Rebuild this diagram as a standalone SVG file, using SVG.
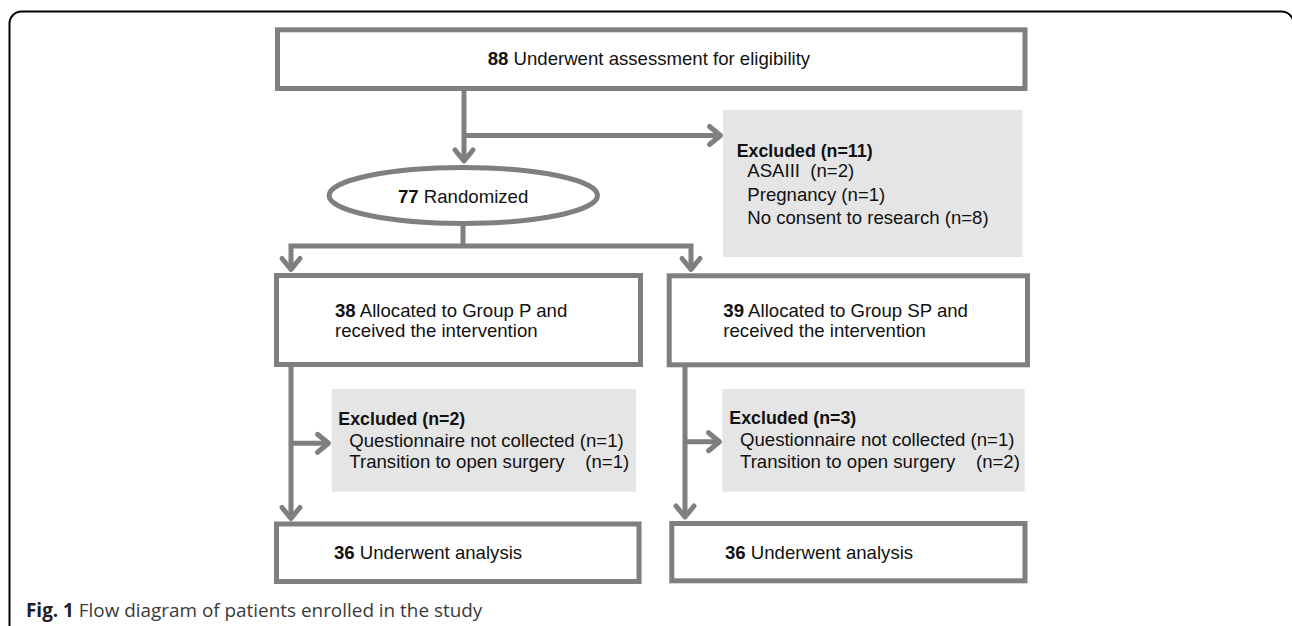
<svg xmlns="http://www.w3.org/2000/svg" width="1292" height="626" viewBox="0 0 1292 626">
<defs>
<style>
.box{fill:#fff;stroke:#7f7f7f;stroke-width:5}
.gbox{fill:#e5e5e5;stroke:none}
.ln{fill:none;stroke:#7f7f7f;stroke-width:5;stroke-linejoin:miter}
.arr{marker-end:url(#ah)}
.t{font-family:"Liberation Sans",Arial,Helvetica,sans-serif;font-size:18.6px;fill:#111}
.b{font-weight:bold}
.h{font-weight:bold;font-size:17.8px}
.cap{font-family:"Open Sans","Liberation Sans",sans-serif;font-size:18.9px;fill:#3a3a3a}
</style>
<marker id="ah" markerUnits="userSpaceOnUse" viewBox="-16 -14 20 28" refX="0" refY="0" markerWidth="20" markerHeight="28" orient="auto" overflow="visible">
<path d="M-11,-9 L0,0 L-11,9" fill="none" stroke="#7f7f7f" stroke-width="5" stroke-linecap="round" stroke-linejoin="round"/>
</marker>
</defs>
<rect id="frame" x="9.5" y="11.5" width="1284" height="640" rx="12" ry="12" fill="none" stroke="#000" stroke-width="2"/>
<g id="connectors">
<path class="ln arr" d="M464,91 V161"/>
<path class="ln arr" d="M464,135.5 H720.5"/>
<path class="ln" d="M463,226 V246"/>
<path class="ln arr" d="M463,246 H291 V269.5"/>
<path class="ln arr" d="M463,246 H691 V269.5"/>
<path class="ln arr" d="M291,367 V518.5"/>
<path class="ln arr" d="M291,443.3 H328.5"/>
<path class="ln arr" d="M685,367 V517"/>
<path class="ln arr" d="M685,441.7 H719.5"/>
</g>
<g id="n-assess">
<rect class="box" x="277.5" y="29.8" width="747.5" height="58.7"/>
<text class="t" x="487.7" y="65"><tspan class="b">88</tspan> Underwent assessment for eligibility</text>
</g>
<g id="n-excluded11">
<rect class="gbox" x="723" y="110" width="299.5" height="147"/>
<text class="t h" x="736.7" y="157">Excluded (n=11)</text>
<text class="t" x="747.3" y="177" xml:space="preserve">ASAIII  (n=2)</text>
<text class="t" x="747.3" y="200.5">Pregnancy (n=1)</text>
<text class="t" x="747.3" y="223.5">No consent to research (n=8)</text>
</g>
<g id="n-randomized">
<ellipse cx="463.3" cy="195.5" rx="134.2" ry="28" fill="#fff" stroke="#7f7f7f" stroke-width="5"/>
<text class="t" x="398" y="203"><tspan class="b">77</tspan> Randomized</text>
</g>
<g id="n-groupP">
<rect class="box" x="276.5" y="275.5" width="364" height="89"/>
<text class="t" x="335" y="316.5"><tspan class="b">38</tspan> Allocated to Group P and</text>
<text class="t" x="335" y="336.5">received the intervention</text>
</g>
<g id="n-groupSP">
<rect class="box" x="669.2" y="275.8" width="358.3" height="89"/>
<text class="t" x="723.3" y="317"><tspan class="b">39</tspan> Allocated to Group SP and</text>
<text class="t" x="723.3" y="337">received the intervention</text>
</g>
<g id="n-excludedP">
<rect class="gbox" x="331.7" y="389" width="304.3" height="102.7"/>
<text class="t h" x="338.3" y="424.5">Excluded (n=2)</text>
<text class="t" x="349.3" y="446.5">Questionnaire not collected (n=1)</text>
<text class="t" x="349.3" y="468" xml:space="preserve">Transition to open surgery    (n=1)</text>
</g>
<g id="n-excludedSP">
<rect class="gbox" x="722.3" y="389" width="302.3" height="102.7"/>
<text class="t h" x="729.3" y="424">Excluded (n=3)</text>
<text class="t" x="740" y="446">Questionnaire not collected (n=1)</text>
<text class="t" x="740" y="467.5" xml:space="preserve">Transition to open surgery    (n=2)</text>
</g>
<g id="n-analysisP">
<rect class="box" x="276.5" y="524" width="362.5" height="57.5"/>
<text class="t" x="334" y="559"><tspan class="b">36</tspan> Underwent analysis</text>
</g>
<g id="n-analysisSP">
<rect class="box" x="671.8" y="523.5" width="353.2" height="57.3"/>
<text class="t" x="725" y="559"><tspan class="b">36</tspan> Underwent analysis</text>
</g>
<g id="caption">
<text class="cap" x="26" y="617"><tspan font-weight="bold" fill="#222">Fig. 1</tspan> Flow diagram of patients enrolled in the study</text>
</g>
</svg>
